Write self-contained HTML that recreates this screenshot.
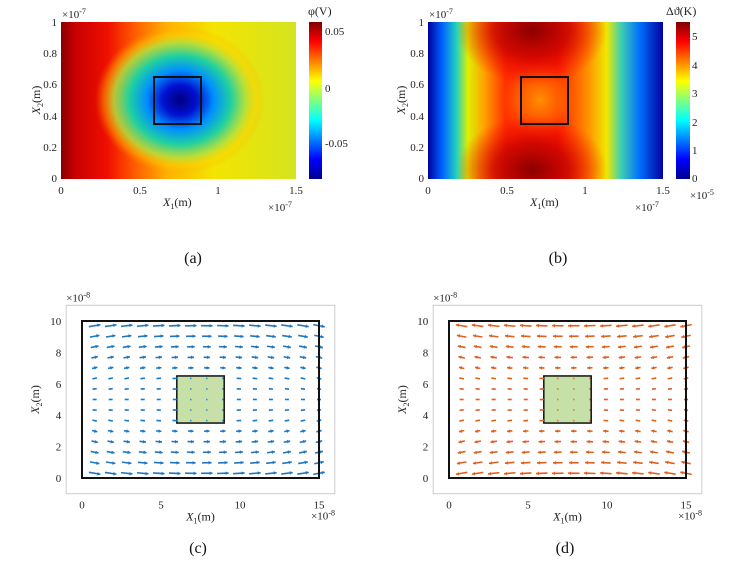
<!DOCTYPE html>
<html><head><meta charset="utf-8"><style>
body{margin:0;background:#fff;width:753px;height:575px;overflow:hidden}
svg{position:absolute;left:0;top:0;font-family:"Liberation Serif",serif}
</style></head><body>
<svg id="s" width="753" height="575" viewBox="0 0 753 575">
<defs>
<linearGradient id="jet" x1="0" y1="1" x2="0" y2="0">
<stop offset="0" stop-color="#00008f"/><stop offset="0.125" stop-color="#0000ff"/><stop offset="0.375" stop-color="#00ffff"/><stop offset="0.625" stop-color="#ffff00"/><stop offset="0.875" stop-color="#ff0000"/><stop offset="1" stop-color="#800000"/>
</linearGradient>
<linearGradient id="abase" x1="0" y1="0" x2="1" y2="0">
<stop offset="0" stop-color="#8a0000"/><stop offset="0.06" stop-color="#c80000"/><stop offset="0.2" stop-color="#f01000"/><stop offset="0.32" stop-color="#ff6000"/><stop offset="0.45" stop-color="#ffb000"/><stop offset="0.65" stop-color="#f4e400"/><stop offset="1" stop-color="#d4e420"/>
</linearGradient>
<radialGradient id="ablob" cx="0.5" cy="0.5" r="0.5">
<stop offset="0" stop-color="#000080"/><stop offset="0.2" stop-color="#0010d0"/><stop offset="0.4" stop-color="#0090ff"/><stop offset="0.6" stop-color="#20d0a0"/><stop offset="0.78" stop-color="#b0e040" stop-opacity="0.85"/><stop offset="0.9" stop-color="#ffd000" stop-opacity="0.4"/><stop offset="1" stop-color="#ffa000" stop-opacity="0"/>
</radialGradient>
<linearGradient id="bbase" x1="0" y1="0" x2="1" y2="0">
<stop offset="0" stop-color="#0000a0"/><stop offset="0.06" stop-color="#0060ff"/><stop offset="0.12" stop-color="#20d0c0"/><stop offset="0.17" stop-color="#e0f000"/><stop offset="0.24" stop-color="#ffa000"/><stop offset="0.33" stop-color="#ff3000"/><stop offset="0.55" stop-color="#ff2000"/><stop offset="0.68" stop-color="#ff9000"/><stop offset="0.76" stop-color="#f0e800"/><stop offset="0.82" stop-color="#40d0b0"/><stop offset="0.9" stop-color="#0070ff"/><stop offset="1" stop-color="#0000a0"/>
</linearGradient>
<radialGradient id="bdark" cx="0.5" cy="0.5" r="0.5">
<stop offset="0" stop-color="#8a0000"/><stop offset="0.5" stop-color="#c80000" stop-opacity="0.8"/><stop offset="1" stop-color="#ff0000" stop-opacity="0"/>
</radialGradient>
<radialGradient id="bmid" cx="0.5" cy="0.5" r="0.5">
<stop offset="0" stop-color="#ff9000"/><stop offset="0.6" stop-color="#ff7000" stop-opacity="0.6"/><stop offset="1" stop-color="#ff5000" stop-opacity="0"/>
</radialGradient>
<clipPath id="ca"><rect x="61" y="22" width="235" height="157"/></clipPath>
<clipPath id="cb"><rect x="428" y="22" width="235" height="157"/></clipPath>
</defs>
<!-- panel a -->
<g clip-path="url(#ca)">
<rect x="61" y="22" width="235" height="157" fill="url(#abase)"/>
<ellipse cx="180" cy="100" rx="85" ry="74" fill="url(#ablob)"/>
</g>
<rect x="154" y="77" width="47" height="47" fill="none" stroke="#111" stroke-width="2"/>
<rect x="309" y="22" width="13" height="157" fill="url(#jet)"/>
<g font-size="11" fill="#222">
<text x="57" y="26" text-anchor="end">1</text><text x="57" y="57" text-anchor="end">0.8</text><text x="57" y="88" text-anchor="end">0.6</text><text x="57" y="120" text-anchor="end">0.4</text><text x="57" y="151" text-anchor="end">0.2</text><text x="57" y="182" text-anchor="end">0</text>
<text x="61" y="194" text-anchor="middle">0</text><text x="140" y="194" text-anchor="middle">0.5</text><text x="218" y="194" text-anchor="middle">1</text><text x="296" y="194" text-anchor="middle">1.5</text>
<text x="62" y="18">×10<tspan font-size="8" dy="-4">-7</tspan></text>
<text x="268" y="211">×10<tspan font-size="8" dy="-4">-7</tspan></text>
<text x="325" y="35">0.05</text><text x="325" y="92">0</text><text x="325" y="147">-0.05</text>
<text x="308" y="15" font-size="12">φ(V)</text>
<text x="163" y="206" font-size="12" font-style="italic">X<tspan font-size="8" dy="3" font-style="normal">1</tspan><tspan dy="-3" font-style="normal">(m)</tspan></text>
<text transform="translate(40,100) rotate(-90)" text-anchor="middle" font-size="12" font-style="italic">X<tspan font-size="8" dy="3" font-style="normal">2</tspan><tspan dy="-3" font-style="normal">(m)</tspan></text>
</g>
<!-- panel b -->
<g clip-path="url(#cb)">
<rect x="428" y="22" width="235" height="157" fill="url(#bbase)"/>
<ellipse cx="540" cy="100" rx="40" ry="40" fill="url(#bmid)"/>
<ellipse cx="532" cy="30" rx="75" ry="55" fill="url(#bdark)"/>
<ellipse cx="532" cy="170" rx="75" ry="55" fill="url(#bdark)"/>
</g>
<rect x="521" y="77" width="47" height="47" fill="none" stroke="#111" stroke-width="2"/>
<rect x="676" y="22" width="14" height="157" fill="url(#jet)"/>
<g font-size="11" fill="#222">
<text x="424" y="26" text-anchor="end">1</text><text x="424" y="57" text-anchor="end">0.8</text><text x="424" y="88" text-anchor="end">0.6</text><text x="424" y="120" text-anchor="end">0.4</text><text x="424" y="151" text-anchor="end">0.2</text><text x="424" y="182" text-anchor="end">0</text>
<text x="428" y="194" text-anchor="middle">0</text><text x="507" y="194" text-anchor="middle">0.5</text><text x="585" y="194" text-anchor="middle">1</text><text x="663" y="194" text-anchor="middle">1.5</text>
<text x="429" y="18">×10<tspan font-size="8" dy="-4">-7</tspan></text>
<text x="635" y="211">×10<tspan font-size="8" dy="-4">-7</tspan></text>
<text x="692" y="40">5</text><text x="692" y="69">4</text><text x="692" y="97">3</text><text x="692" y="126">2</text><text x="692" y="154">1</text><text x="692" y="182">0</text>
<text x="690" y="199">×10<tspan font-size="8" dy="-4">-5</tspan></text>
<text x="666" y="15" font-size="12">Δϑ(K)</text>
<text x="530" y="206" font-size="12" font-style="italic">X<tspan font-size="8" dy="3" font-style="normal">1</tspan><tspan dy="-3" font-style="normal">(m)</tspan></text>
<text transform="translate(405,100) rotate(-90)" text-anchor="middle" font-size="12" font-style="italic">X<tspan font-size="8" dy="3" font-style="normal">2</tspan><tspan dy="-3" font-style="normal">(m)</tspan></text>
</g>
<g font-size="16" fill="#111" text-anchor="middle">
<text x="193" y="263">(a)</text><text x="558" y="263">(b)</text><text x="198" y="553">(c)</text><text x="565" y="553">(d)</text>
</g>
<g id="cd"></g>
</svg>
<script>
const g=document.getElementById('cd');let h='';
function panel(ox,col,dir){
 const X=v=>ox+v*15.8, Y=v=>478-v*15.7;
 h+=`<rect x="${X(-1)}" y="${Y(11)}" width="${17*15.8}" height="${12*15.7}" fill="none" stroke="#ccc" stroke-width="1"/>`;
 for(let i=0;i<=15;i+=5){h+=`<text x="${X(i)}" y="${Y(-1)+15}" font-size="11" text-anchor="middle" fill="#222">${i}</text>`;}
 for(let j=0;j<=10;j+=2){h+=`<text x="${X(-1)-5}" y="${Y(j)+4}" font-size="11" text-anchor="end" fill="#222">${j}</text>`;}
 h+=`<text x="${X(-1)}" y="${Y(11)-4}" font-size="11" fill="#222">×10<tspan font-size="8" dy="-4">-8</tspan></text>`;
 h+=`<text x="${X(14.5)}" y="${Y(-1)+26}" font-size="11" fill="#222">×10<tspan font-size="8" dy="-4">-8</tspan></text>`;
 h+=`<text x="${X(7.5)}" y="${Y(-1)+27}" font-size="12" font-style="italic" text-anchor="middle" fill="#222">X<tspan font-size="8" dy="3" font-style="normal">1</tspan><tspan dy="-3" font-style="normal">(m)</tspan></text>`;
 h+=`<text transform="translate(${X(-1)-27},${Y(5)}) rotate(-90)" font-size="12" font-style="italic" text-anchor="middle" fill="#222">X<tspan font-size="8" dy="3" font-style="normal">2</tspan><tspan dy="-3" font-style="normal">(m)</tspan></text>`;
 h+=`<rect x="${X(6)}" y="${Y(6.5)}" width="${3*15.8}" height="${3*15.7}" fill="#c6e0a8" stroke="#111" stroke-width="1.5"/>`;
 for(let i=0;i<15;i++)for(let j=0;j<15;j++){
  const x=0.8+i*(14.2/14), y=0.3+j*(9.4/14);
  const dy=(y-5)/5, dx=(x-7.5)/7.5;
  const inSq=x>6&&x<9&&y>3.5&&y<6.5;
  let u=0.15+0.85*dy*dy, v=-0.18*dx*dy;
  let m=inSq?0.05:Math.min(1,Math.hypot(u,v));
  const ang=Math.atan2(v,u);
  const L=(inSq?1.2:2.5+m*10);
  const cx=X(x), cy=Y(y);
  let ux=Math.cos(ang)*dir, uy=-Math.sin(ang);
  const x1=cx-ux*L/2,y1=cy-uy*L/2,x2=cx+ux*L/2,y2=cy+uy*L/2;
  h+=`<line x1="${x1}" y1="${y1}" x2="${x2}" y2="${y2}" stroke="${col}" stroke-width="1.6"/>`;
  if(L>5){const a=3;h+=`<polygon points="${x2},${y2} ${x2-ux*a-uy*1.8},${y2-uy*a+ux*1.8} ${x2-ux*a+uy*1.8},${y2-uy*a-ux*1.8}" fill="${col}"/>`;}
 }
 h+=`<rect x="${X(0)}" y="${Y(10)}" width="${15*15.8}" height="${10*15.7}" fill="none" stroke="#111" stroke-width="2"/>`;
}
panel(82,'#1f77c0',1);
panel(449,'#e0601f',-1);
g.innerHTML=h;
</script>
</body></html>
